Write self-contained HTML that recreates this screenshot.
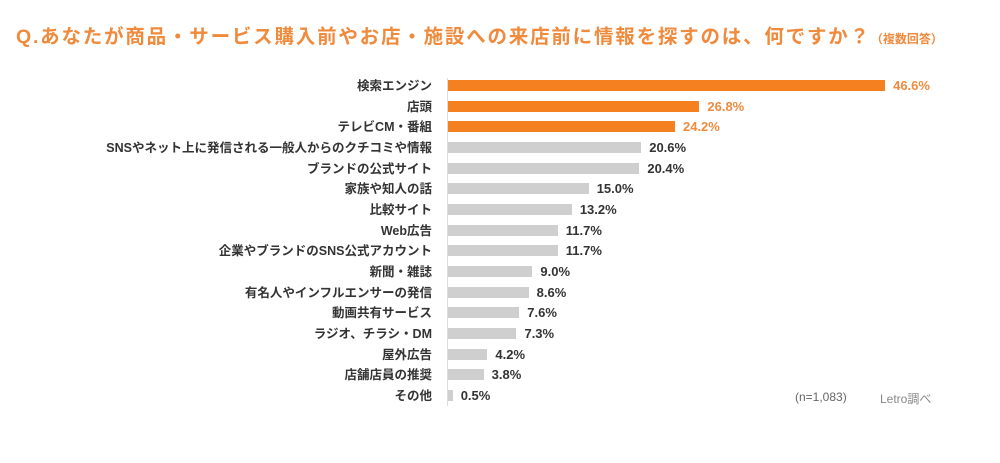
<!DOCTYPE html>
<html><head><meta charset="utf-8"><style>
body{margin:0;width:1000px;height:463px;background:#fff;overflow:hidden;font-family:"Liberation Sans","Noto Sans CJK JP",sans-serif;position:relative}
.t{position:absolute;left:16px;top:20px;font-size:19.5px;font-weight:bold;color:#f08a3c;white-space:nowrap;letter-spacing:1.8px}
.t small{font-size:12px;font-weight:bold;letter-spacing:0}
.ax{position:absolute;left:447px;top:78px;width:1px;height:328px;background:#ddd}
.r{position:absolute;left:0;width:1000px;height:20px}
.l{position:absolute;left:0;width:432px;text-align:right;font-size:12.5px;font-weight:bold;color:#333;white-space:nowrap;top:0;line-height:20px}
.b{position:absolute;left:448px;top:4px;height:11px;background:#cfcfcf}
.v{position:absolute;top:0;line-height:20px;font-size:13px;font-weight:bold;color:#333}
.o .b{background:#f5801f}.o .v{color:#f08a3c}
.n{position:absolute;top:390px;font-size:12px;color:#666}
</style></head><body>
<div class="t">Q.あなたが商品・サービス購入前やお店・施設への来店前に情報を探すのは、何ですか？<small>（複数回答）</small></div>
<div class="ax"></div>
<div id="c"></div>
<div class="n" style="left:795px">(n=1,083)</div>
<div class="n" style="left:880px;color:#888">Letro調べ</div>
<script>
var d=[["検索エンジン",46.6,1],["店頭",26.8,1],["テレビCM・番組",24.2,1],["SNSやネット上に発信される一般人からのクチコミや情報",20.6],["ブランドの公式サイト",20.4],["家族や知人の話",15.0],["比較サイト",13.2],["Web広告",11.7],["企業やブランドのSNS公式アカウント",11.7],["新聞・雑誌",9.0],["有名人やインフルエンサーの発信",8.6],["動画共有サービス",7.6],["ラジオ、チラシ・DM",7.3],["屋外広告",4.2],["店舗店員の推奨",3.8],["その他",0.5]];
var h="";d.forEach(function(e,i){var y=76+i*20.67,w=e[1]*9.38;
h+='<div class="r'+(e[2]?' o':'')+'" style="top:'+y+'px"><div class="l">'+e[0]+'</div><div class="b" style="width:'+w+'px"></div><div class="v" style="left:'+(448+w+8)+'px">'+e[1].toFixed(1)+'%</div></div>';});
document.getElementById("c").innerHTML=h;
</script>
</body></html>
